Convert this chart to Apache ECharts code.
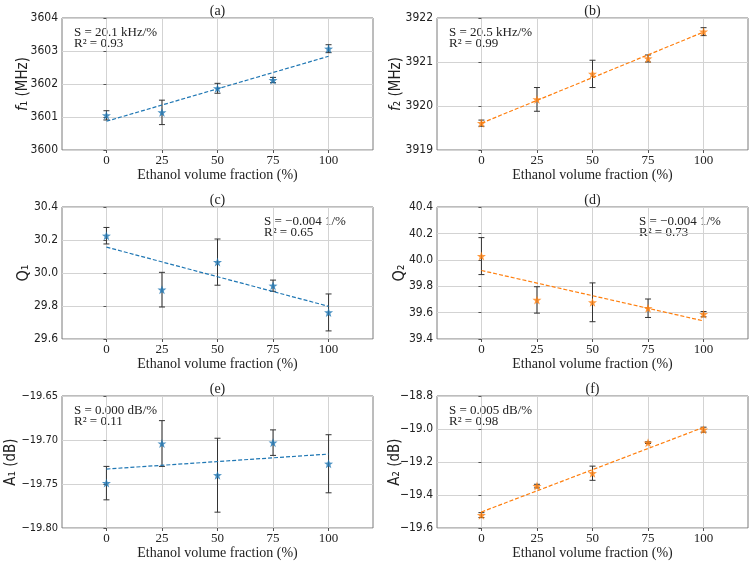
<!DOCTYPE html>
<html>
<head>
<meta charset="utf-8">
<script src="https://cdn.jsdelivr.net/npm/echarts@6/dist/echarts.min.js"></script>
<style>
html, body { margin: 0; padding: 0; background: #fff; }
#main { width: 755px; height: 562px; }
</style>
</head>
<body>
<div id="main"></div>
<script>
// ethanol volume fraction (%)
var fractions = [0, 25, 50, 75, 100];
var xTicks = [0, 25, 50, 75, 100];

// (a) f1 (MHz)
var f1 = [3601.05, 3601.14, 3601.87, 3602.12, 3603.07];
var f1Err = [0.14, 0.37, 0.15, 0.08, 0.12];
var f1Fit = [3600.87, 3602.84];
// (b) f2 (MHz)
var f2 = [3919.61, 3920.15, 3920.73, 3921.08, 3921.69];
var f2Err = [0.07, 0.27, 0.31, 0.08, 0.09];
var f2Fit = [3919.61, 3921.68];
// (c) Q1
var q1 = [30.226, 29.899, 30.066, 29.923, 29.761];
var q1Err = [0.05, 0.105, 0.14, 0.034, 0.112];
var q1Fit = [30.157, 29.798];
// (d) Q2
var q2 = [40.028, 39.696, 39.678, 39.633, 39.588];
var q2Err = [0.14, 0.10, 0.147, 0.07, 0.02];
var q2Fit = [39.919, 39.537];
// (e) A1 (dB)
var a1 = [-19.749, -19.704, -19.740, -19.703, -19.727];
var a1Err = [0.019, 0.026, 0.042, 0.0145, 0.033];
var a1Fit = [-19.733, -19.716];
// (f) A2 (dB)
var a2 = [-19.522, -19.346, -19.268, -19.083, -19.004];
var a2Err = [0.015, 0.011, 0.043, 0.005, 0.015];
var a2Fit = [-19.503, -18.990];

var blue = '#1f77b4', orange = '#ff7f0e';
var serif = "'Liberation Serif', 'DejaVu Serif', serif";
var sans = "'DejaVu Sans Condensed', 'DejaVu Sans', sans-serif";
var star = 'path://M0,-10 L2.35,-3.24 L9.51,-3.09 L3.8,1.24 L5.88,8.09 L0,4 L-5.88,8.09 L-3.8,1.24 L-9.51,-3.09 L-2.35,-3.24 Z';

var panels = [
  {tag: '(a)', name: '{it|f}₁ (MHz)', gap: 31, tickSize: 12, y: f1, err: f1Err, fit: f1Fit, color: blue, min: 3600, max: 3604, step: 1, dec: 0,
   note: ['S = 20.1 kHz/%', 'R² = 0.93'], noteLeft: true},
  {tag: '(b)', name: '{it|f}₂ (MHz)', gap: 33, tickSize: 12, y: f2, err: f2Err, fit: f2Fit, color: orange, min: 3919, max: 3922, step: 1, dec: 0,
   note: ['S = 20.5 kHz/%', 'R² = 0.99'], noteLeft: true},
  {tag: '(c)', name: '{big|Q₁}', gap: 30, tickSize: 12, y: q1, err: q1Err, fit: q1Fit, color: blue, min: 29.6, max: 30.4, step: 0.2, dec: 1,
   note: ['S = −0.004 1/%', 'R² = 0.65'], noteLeft: false},
  {tag: '(d)', name: '{big|Q₂}', gap: 29, tickSize: 12, y: q2, err: q2Err, fit: q2Fit, color: orange, min: 39.4, max: 40.4, step: 0.2, dec: 1,
   note: ['S = −0.004 1/%', 'R² = 0.73'], noteLeft: false},
  {tag: '(e)', name: 'A₁ (dB)', gap: 43, tickSize: 11, y: a1, err: a1Err, fit: a1Fit, color: blue, min: -19.80, max: -19.65, step: 0.05, dec: 2,
   note: ['S = 0.000 dB/%', 'R² = 0.11'], noteLeft: true},
  {tag: '(f)', name: 'A₂ (dB)', gap: 34, tickSize: 12, y: a2, err: a2Err, fit: a2Fit, color: orange, min: -19.6, max: -18.8, step: 0.2, dec: 1,
   note: ['S = 0.005 dB/%', 'R² = 0.98'], noteLeft: true}
];

var colLeft = [62, 437];
var rowTop = [18, 207, 396];
var plotW = 311, plotH = 132;

function errorBar(params, api) {
  var x = api.value(0);
  var lo = api.coord([x, api.value(1)]);
  var hi = api.coord([x, api.value(2)]);
  var cap = 3;
  var st = {stroke: '#333', lineWidth: 1};
  return {type: 'group', children: [
    {type: 'line', shape: {x1: hi[0], y1: hi[1], x2: lo[0], y2: lo[1]}, style: st},
    {type: 'line', shape: {x1: hi[0] - cap, y1: hi[1], x2: hi[0] + cap, y2: hi[1]}, style: st},
    {type: 'line', shape: {x1: lo[0] - cap, y1: lo[1], x2: lo[0] + cap, y2: lo[1]}, style: st}
  ]};
}

var grids = [], xAxes = [], yAxes = [], series = [], graphics = [];

panels.forEach(function (p, i) {
  var left = colLeft[i % 2], top = rowTop[Math.floor(i / 2)];
  grids.push({left: left, top: top, width: plotW, height: plotH, show: true,
    borderColor: '#7a7a7a', borderWidth: 1, backgroundColor: 'transparent'});

  xAxes.push({type: 'value', gridIndex: i, min: -20, max: 120,
    name: 'Ethanol volume fraction (%)', nameLocation: 'middle', nameGap: 18,
    nameTextStyle: {fontFamily: serif, fontSize: 14, color: '#222'},
    axisLine: {show: false},
    axisTick: {show: true, length: 3, customValues: xTicks, lineStyle: {color: '#555'}},
    axisLabel: {customValues: xTicks, fontFamily: serif, fontSize: 13, color: '#222', margin: 4},
    splitLine: {show: true, lineStyle: {color: '#d3d3d3', width: 1}}
  });

  yAxes.push({type: 'value', gridIndex: i, min: p.min, max: p.max, interval: p.step,
    name: p.name, nameLocation: 'middle', nameRotate: 90, nameGap: p.gap, nameMoveOverlap: false,
    nameTextStyle: {fontFamily: sans, fontSize: 15, color: '#222',
      rich: {it: {fontFamily: sans, fontSize: 15, fontStyle: 'italic', color: '#222'},
             big: {fontFamily: sans, fontSize: 16, color: '#222'}}},
    axisLine: {show: false},
    axisTick: {show: true, length: 3, lineStyle: {color: '#555'}},
    axisLabel: {fontFamily: sans, fontSize: p.tickSize, color: '#222', margin: 4,
      formatter: function (v) { return v.toFixed(p.dec).replace('-', '−'); }},
    splitLine: {show: true, lineStyle: {color: '#d3d3d3', width: 1}}
  });

  var bars = fractions.map(function (x, k) { return [x, p.y[k] - p.err[k], p.y[k] + p.err[k]]; });
  series.push({type: 'custom', xAxisIndex: i, yAxisIndex: i, renderItem: errorBar,
    encode: {x: 0, y: [1, 2]}, data: bars, z: 2, silent: true});
  series.push({type: 'line', xAxisIndex: i, yAxisIndex: i, showSymbol: false, symbol: 'none',
    data: [[0, p.fit[0]], [100, p.fit[1]]],
    lineStyle: {color: p.color, width: 1.2, type: [4, 2]}, z: 3, silent: true});
  series.push({type: 'scatter', xAxisIndex: i, yAxisIndex: i, symbol: star, symbolSize: 9,
    data: fractions.map(function (x, k) { return [x, p.y[k]]; }),
    itemStyle: {color: p.color}, z: 4, silent: true});

  graphics.push({type: 'text', x: left + plotW / 2, y: top - 7,
    style: {text: p.tag, fontFamily: serif, fontSize: 14, fill: '#222',
      textAlign: 'center', textVerticalAlign: 'middle'}});
  var nx = p.noteLeft ? left + 12 : left + 202;
  graphics.push({type: 'text', x: nx, y: top + 15,
    style: {text: p.note[0], fontFamily: serif, fontSize: 13, fill: '#222',
      textAlign: 'left', textVerticalAlign: 'middle'}});
  graphics.push({type: 'text', x: nx, y: top + 26,
    style: {text: p.note[1], fontFamily: serif, fontSize: 13, fill: '#222',
      textAlign: 'left', textVerticalAlign: 'middle'}});
});

var chart = echarts.init(document.getElementById('main'), null, {renderer: 'canvas'});
chart.setOption({
  animation: false,
  backgroundColor: '#fff',
  grid: grids,
  xAxis: xAxes,
  yAxis: yAxes,
  series: series,
  graphic: graphics
});
</script>
</body>
</html>
